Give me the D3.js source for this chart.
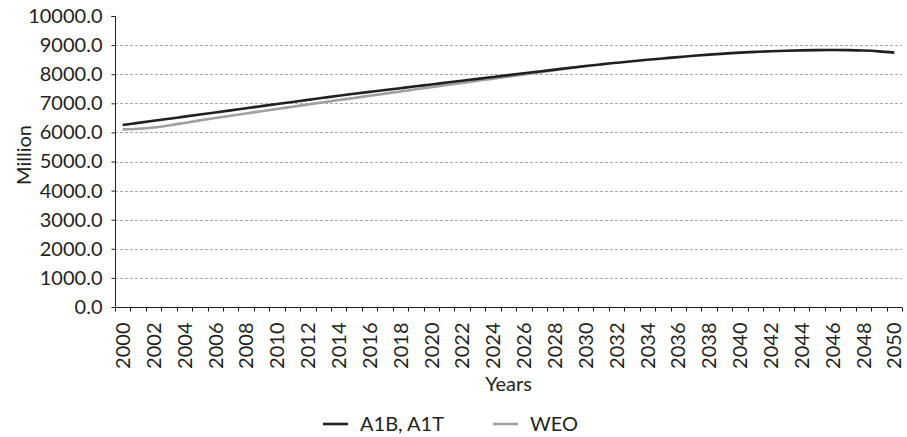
<!DOCTYPE html>
<html>
<head>
<meta charset="utf-8">
<script src="https://cdn.jsdelivr.net/npm/d3@7/dist/d3.min.js"></script>
<style>
  html, body { margin: 0; padding: 0; background: #fff; }
  svg { display: block; }
  text { font-family: Lato, "Open Sans", sans-serif; fill: #231f20; }
</style>
</head>
<body>
<svg id="chart" width="907" height="437"></svg>
<script>
// Population projections, million people
const years = d3.range(2000, 2051);

const a1bValues = [
  6254, 6326, 6398, 6470, 6542, 6614, 6686, 6758, 6830, 6902,
  6974, 7046, 7118, 7190, 7261, 7327, 7392, 7456, 7520, 7584,
  7648, 7712, 7776, 7840, 7904, 7968, 8032, 8095, 8158, 8220,
  8282, 8338, 8392, 8444, 8494, 8542, 8588, 8632, 8672, 8708,
  8740, 8766, 8788, 8806, 8818, 8826, 8830, 8826, 8812, 8784,
  8740
];

const weoYears = d3.range(2000, 2031);
const weoValues = [
  6105, 6125, 6168, 6240, 6326, 6414, 6494, 6572, 6650, 6727,
  6804, 6881, 6958, 7035, 7111, 7185, 7259, 7332, 7406, 7480,
  7553, 7626, 7699, 7772, 7845, 7918, 7991, 8064, 8137, 8210,
  8282
];

const yTicks = d3.range(0, 10001, 1000);
const xLabelYears = years.filter(y => (y - 2000) % 2 === 0);

const seriesNames = ["A1B, A1T", "WEO"];
const seriesColors = ["#231f20", "#a0a0a0"];

const svg = d3.select("#chart");
const plotLeft = 115, plotRight = 902, plotTop = 16, plotBottom = 307;

const x = d3.scaleBand().domain(years).range([plotLeft, plotRight]).padding(0);
const y = d3.scaleLinear().domain([0, 10000]).range([plotBottom, plotTop]);
const cx = d => x(d) + x.bandwidth() / 2;

// horizontal gridlines
svg.append("g")
  .selectAll("line")
  .data(yTicks.filter(v => v > 0 && v < 10000))
  .join("line")
  .attr("x1", plotLeft).attr("x2", plotRight)
  .attr("y1", d => Math.round(y(d)) + 0.5)
  .attr("y2", d => Math.round(y(d)) + 0.5)
  .attr("stroke", "#a6a6a6")
  .attr("stroke-width", 1)
  .attr("stroke-dasharray", "3,2");

// series lines
const line = d3.line().curve(d3.curveCatmullRom.alpha(0.5));

svg.append("path")
  .datum(weoYears.map((yr, i) => [cx(yr), y(weoValues[i])]))
  .attr("d", line)
  .attr("fill", "none")
  .attr("stroke", seriesColors[1])
  .attr("stroke-width", 2.6);

svg.append("path")
  .datum(years.map((yr, i) => [cx(yr), y(a1bValues[i])]))
  .attr("d", line)
  .attr("fill", "none")
  .attr("stroke", seriesColors[0])
  .attr("stroke-width", 2.6);

// y axis
const yAxis = svg.append("g")
  .attr("transform", `translate(${plotLeft + 0.5},0)`)
  .call(d3.axisLeft(y).tickValues(yTicks).tickFormat(d3.format(".1f")).tickSize(4).tickPadding(9));
yAxis.selectAll("text").style("font-size", "20px").style("font-family", "Lato, 'Open Sans', sans-serif");
yAxis.selectAll("line, path").attr("stroke", "#231f20");
yAxis.select(".domain").attr("d", `M-4,${plotTop + 0.5}H0V${plotBottom + 0.5}`);

// x axis: tick marks on band edges, labels every second year
const xAxis = svg.append("g")
  .attr("transform", `translate(0,${plotBottom + 0.5})`)
  .call(d3.axisBottom(x).tickValues(xLabelYears).tickSize(0).tickPadding(0));
xAxis.select(".domain").attr("stroke", "#231f20").attr("d", `M${plotLeft},0H${plotRight}`);
xAxis.selectAll(".tick text")
  .attr("transform", "rotate(-90)")
  .attr("x", -15)
  .attr("y", 0)
  .attr("dy", "0.36em")
  .attr("text-anchor", "end")
  .style("font-size", "20px")
  .style("font-family", "Lato, 'Open Sans', sans-serif");

svg.append("g")
  .attr("transform", `translate(0,${plotBottom + 0.5})`)
  .selectAll("line")
  .data(years.map(d => x(d)).concat([plotRight]))
  .join("line")
  .attr("x1", d => Math.round(d) + 0.5).attr("x2", d => Math.round(d) + 0.5)
  .attr("y1", 0).attr("y2", 4)
  .attr("stroke", "#231f20");

// axis titles
svg.append("text")
  .attr("x", (plotLeft + plotRight) / 2)
  .attr("y", 391)
  .attr("text-anchor", "middle")
  .style("font-size", "20px")
  .text("Years");

svg.append("text")
  .attr("transform", `translate(31,155) rotate(-90)`)
  .attr("text-anchor", "middle")
  .style("font-size", "20px")
  .text("Million");

// legend
const legendItems = [
  { name: seriesNames[0], color: seriesColors[0], x: 323 },
  { name: seriesNames[1], color: seriesColors[1], x: 493 }
];
const legend = svg.append("g").selectAll("g").data(legendItems).join("g")
  .attr("transform", d => `translate(${d.x},424)`);
legend.append("line")
  .attr("x1", 0).attr("x2", 25).attr("y1", 0).attr("y2", 0)
  .attr("stroke", d => d.color).attr("stroke-width", 2.6);
legend.append("text")
  .attr("x", 37).attr("y", 6.5)
  .style("font-size", "20px")
  .text(d => d.name);
</script>
</body>
</html>
